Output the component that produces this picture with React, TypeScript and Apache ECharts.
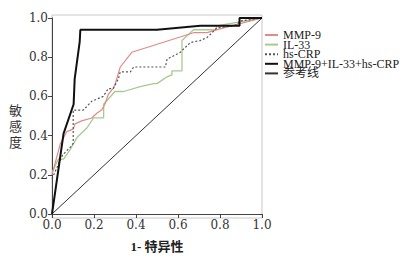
import React, { useEffect, useRef } from "react";
import * as echarts from "echarts";

const seriesNames = ["MMP-9", "IL-33", "hs-CRP", "MMP-9+IL-33+hs-CRP", "参考线"];

const mmp9: number[][] = [
  [0, 0.2], [0.04, 0.36], [0.07, 0.42], [0.101, 0.433], [0.11, 0.46], [0.141, 0.475],
  [0.189, 0.49], [0.215, 0.515], [0.236, 0.53], [0.252, 0.56], [0.268, 0.61], [0.29, 0.64],
  [0.3, 0.66], [0.325, 0.75], [0.38, 0.825], [0.674, 0.925], [0.738, 0.925], [0.817, 0.95], [1, 1],
];

const il33: number[][] = [
  [0, 0.21], [0.03, 0.28], [0.055, 0.28], [0.087, 0.33], [0.119, 0.39], [0.167, 0.44],
  [0.198, 0.49], [0.246, 0.49], [0.246, 0.56], [0.3, 0.625], [0.341, 0.625], [0.42, 0.65],
  [0.484, 0.665], [0.5, 0.665], [0.548, 0.7], [0.571, 0.71], [0.571, 0.73], [0.619, 0.73],
  [0.619, 0.885], [0.674, 0.94], [0.778, 0.94], [0.786, 0.96], [1, 1],
];

const hsCrp: number[][] = [
  [0, 0.18], [0.05, 0.3], [0.086, 0.34], [0.101, 0.36], [0.101, 0.53], [0.149, 0.53],
  [0.189, 0.575], [0.244, 0.6], [0.268, 0.64], [0.292, 0.64], [0.316, 0.69], [0.325, 0.725],
  [0.373, 0.725], [0.389, 0.75], [0.54, 0.75], [0.548, 0.79], [0.611, 0.825], [0.659, 0.875],
  [0.706, 0.885], [0.738, 0.9], [0.786, 0.95], [0.87, 0.96], [0.9, 0.985], [1, 1],
];

const combined: number[][] = [
  [0, 0], [0.055, 0.41], [0.103, 0.56], [0.108, 0.69], [0.132, 0.88], [0.135, 0.94],
  [0.5, 0.94], [0.706, 0.96], [0.893, 0.96], [0.893, 1.0], [1, 1],
];

const reference: number[][] = [[0, 0], [1, 1]];

const SERIF = '"Liberation Serif", "Noto Sans CJK SC", serif';
const TICK_FONT = '"DejaVu Serif", "Liberation Serif", serif';

export default function App() {
  const ref = useRef<HTMLDivElement>(null);
  useEffect(() => {
    if (!ref.current) return;
    const chart = echarts.init(ref.current, undefined, { renderer: "svg" });
    const lineBase = { type: "line" as const, showSymbol: false, symbol: "none", silent: true };
    chart.setOption({
      animation: false,
      backgroundColor: "#ffffff",
      grid: { left: 52, right: 141, top: 18, bottom: 40 },
      legend: {
        orient: "vertical",
        left: 264,
        top: 29,
        itemWidth: 13,
        itemHeight: 9,
        itemGap: -2.4,
        padding: 0,
        data: seriesNames,
        itemStyle: { opacity: 0 },
        textStyle: { fontFamily: SERIF, fontSize: 12, color: "#222", lineHeight: 9.3 },
      },
      graphic: [
        {
          type: "rect",
          z: -1,
          shape: { x: 52, y: 15, width: 210, height: 203 },
          style: { fill: "none", stroke: "#c8c8c8", lineWidth: 1 },
        },
        {
          type: "text",
          left: 9,
          top: 101,
          style: {
            text: "敏\n感\n度",
            font: '13px "Noto Sans CJK SC"',
            fill: "#333",
            lineHeight: 16,
          },
        },
      ],
      xAxis: {
        type: "value",
        min: 0,
        max: 1,
        interval: 0.2,
        name: "1- 特异性",
        nameLocation: "middle",
        nameGap: 26,
        nameTextStyle: { fontFamily: '"Liberation Serif", "Noto Sans CJK SC"', fontSize: 13, fontWeight: "bold", color: "#222" },
        axisLine: { lineStyle: { color: "#444", width: 1 } },
        axisTick: { length: 4, lineStyle: { color: "#444" } },
        axisLabel: { fontFamily: TICK_FONT, fontSize: 12, color: "#333", margin: 5, formatter: (v: number) => v.toFixed(1) },
        splitLine: { show: false },
      },
      yAxis: {
        type: "value",
        min: 0,
        max: 1,
        interval: 0.2,
        axisLine: { show: true, lineStyle: { color: "#444", width: 1 } },
        axisTick: { show: true, length: 4, lineStyle: { color: "#444" } },
        axisLabel: { fontFamily: TICK_FONT, fontSize: 12, color: "#333", margin: 4, formatter: (v: number) => v.toFixed(1) },
        splitLine: { show: false },
      },
      series: [
        { ...lineBase, name: "参考线", data: reference, z: 1, lineStyle: { color: "#333", width: 1 }, itemStyle: { color: "#333" } },
        { ...lineBase, name: "IL-33", data: il33, z: 2, lineStyle: { color: "#a9c98f", width: 1.3 }, itemStyle: { color: "#a9c98f" } },
        { ...lineBase, name: "MMP-9", data: mmp9, z: 3, lineStyle: { color: "#e08a8a", width: 1.2 }, itemStyle: { color: "#e08a8a" } },
        { ...lineBase, name: "hs-CRP", data: hsCrp, z: 4, lineStyle: { color: "#555", width: 1.2, type: [2, 2] }, itemStyle: { color: "#555" } },
        { ...lineBase, name: "MMP-9+IL-33+hs-CRP", data: combined, z: 5, lineStyle: { color: "#111", width: 2 }, itemStyle: { color: "#111" } },
      ],
    });
    return () => chart.dispose();
  }, []);
  return <div ref={ref} style={{ position: "fixed", left: 0, top: 0, width: 403, height: 258 }} />;
}
